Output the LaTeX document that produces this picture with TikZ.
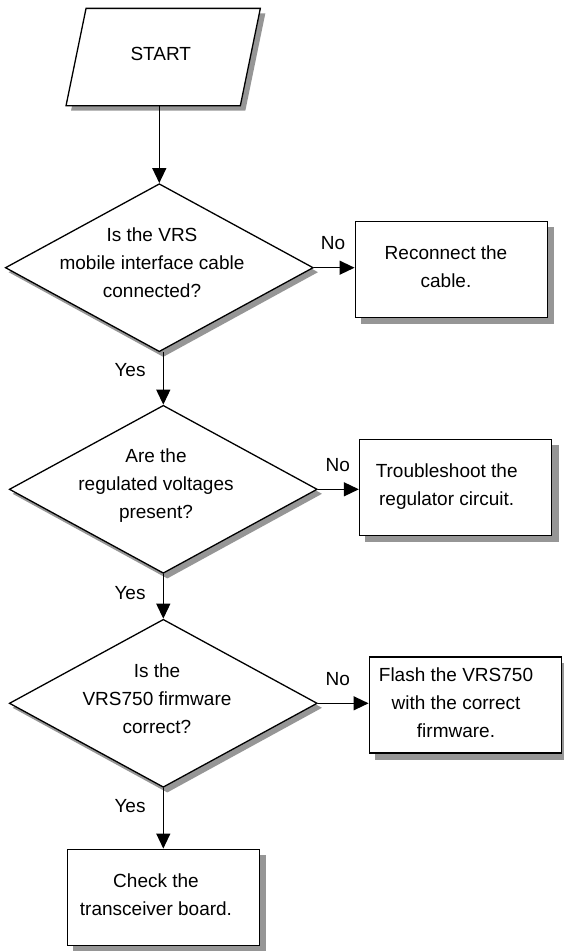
\documentclass[tikz,border=0pt]{standalone}
\usepackage{fontspec}
\setmainfont{Liberation Sans}
\usetikzlibrary{arrows.meta,backgrounds,shapes.geometric}
\definecolor{shgray}{RGB}{150,150,150}
\begin{document}
\begin{tikzpicture}[x=1pt,y=-1pt,line width=1.3pt,
  every node/.style={font=\fontsize{19}{28}\selectfont,text=black},
  procbox/.style={draw,fill=white,rectangle,minimum width=192pt,minimum height=96pt,inner sep=0pt},
  decision/.style={draw,fill=white,diamond,minimum width=308pt,minimum height=168pt,inner sep=0pt},
  startbox/.style={rectangle,minimum width=173pt,minimum height=96pt,inner sep=0pt},
  txt/.style={align=center,inner sep=0pt},
  lbl/.style={inner sep=0pt,anchor=base},
  arr/.style={-{Triangle[length=15pt,width=14pt]}}]
\useasboundingbox (0,0) rectangle (563,951);

% start (parallelogram)
\node[startbox] (start) at (163.2,57) {};
\begin{scope}[on background layer]
  \fill[shgray] ([shift={(15,5)}]start.north west) -- ([shift={(15,5)}]start.north east)
    -- ([shift={(-5,5)}]start.south east) -- ([shift={(-5,5)}]start.south west) -- cycle;
\end{scope}
\draw[fill=white] ([xshift=10pt]start.north west) -- ([xshift=10pt]start.north east)
    -- ([xshift=-10pt]start.south east) -- ([xshift=-10pt]start.south west) -- cycle;
\node[txt] (startt) at (160.8,54.3) {START};

% decisions
\node[decision] (d1) at (159.3,267.7) {};
\node[txt] (d1t) at (152,263) {Is the VRS\\mobile interface cable\\connected?};
\node[decision] (d2) at (163.3,489.3) {};
\node[txt] (d2t) at (156,486) {Are the\\regulated voltages\\present?};
\node[decision] (d3) at (163.3,703.3) {};
\node[txt] (d3t) at (157,699) {Is the\\VRS750 firmware\\correct?};

% process boxes
\node[procbox] (b1) at (451.2,269.2) {};
\node[txt] (b1t) at (446,267) {Reconnect the\\cable.};
\node[procbox] (b2) at (455.5,487.2) {};
\node[txt] (b2t) at (446.7,486.7) {Troubleshoot the\\regulator circuit.};
\node[procbox] (b3) at (465.2,705) {};
\node[txt] (b3t) at (456,702.5) {Flash the VRS750\\with the correct\\firmware.};
\node[procbox] (b4) at (163.3,897.2) {};
\node[txt] (b4t) at (156,895) {Check the\\transceiver board.};

% shadows
\begin{scope}[on background layer]
  \foreach \b in {b1,b2,b3,b4}
    \fill[shgray] ([shift={(6.5,6.5)}]\b.north west) rectangle ([shift={(6.5,6.5)}]\b.south east);
  \foreach \d in {d1,d2,d3}
    \fill[shgray] ([shift={(4,4.5)}]\d.north) -- ([shift={(4,4.5)}]\d.east)
      -- ([shift={(4,4.5)}]\d.south) -- ([shift={(4,4.5)}]\d.west) -- cycle;
\end{scope}

% connectors
\draw[arr] (d1.north |- start.south) -- (d1.north);
\draw[arr] (d2.north |- d1.south) -- (d2.north);
\draw[arr] (d3.north |- d2.south) -- (d3.north);
\draw[arr] (d3.south) -- (b4.north);
\draw[arr] (d1.east) -- (d1.east -| b1.west);
\draw[arr] (d2.east) -- (d2.east -| b2.west);
\draw[arr] (d3.east) -- (d3.east -| b3.west);

% labels
\node[lbl] (no1) at (333,249.3) {No};
\node[lbl] (no2) at (337.7,471.7) {No};
\node[lbl] (no3) at (337.7,685) {No};
\node[lbl] (yes1) at (130,376.7) {Yes};
\node[lbl] (yes2) at (130,599) {Yes};
\node[lbl] (yes3) at (130,812.7) {Yes};
\end{tikzpicture}
\end{document}
